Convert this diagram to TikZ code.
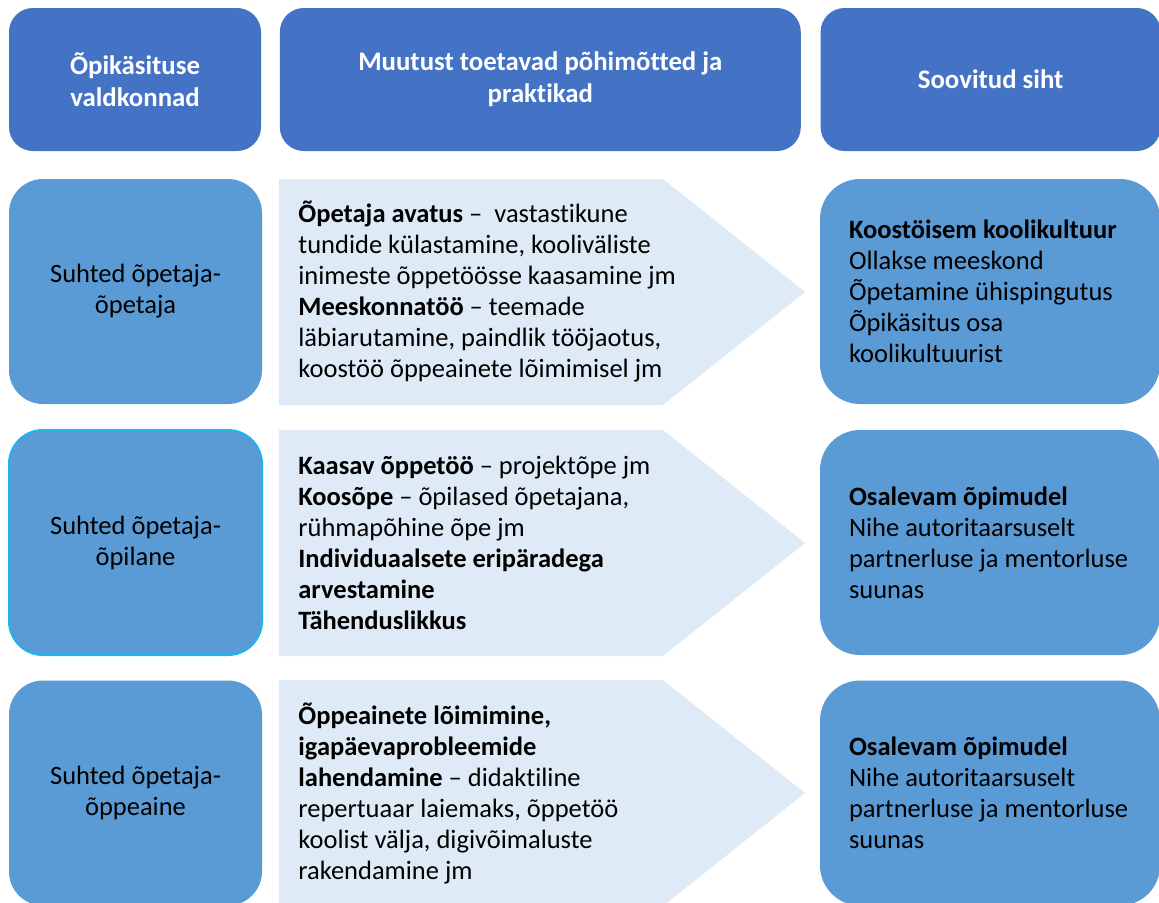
\documentclass[tikz,border=0pt]{standalone}
\usepackage{fontspec}
\setmainfont{Carlito}[Ligatures=NoCommon]
\usetikzlibrary{positioning}

\definecolor{headblue}{HTML}{4472C4}
\definecolor{rowblue}{HTML}{5B9BD5}
\definecolor{arrowfill}{HTML}{DEEBF7}
\definecolor{edgecyan}{HTML}{1FB4EC}
\newcommand{\bodyfont}{\fontsize{13.25}{15.5}\selectfont}
\newcommand{\headfont}{\fontsize{13.4}{16}\selectfont\bfseries}

\begin{document}
\begin{tikzpicture}[
    x=0.5pt, y=-0.5pt,
    headbox/.style  = {rectangle, rounded corners=12pt, fill=headblue, text=white, minimum height=71.5pt, inner sep=0pt, align=center, font=\headfont},
    areabox/.style  = {rectangle, rounded corners=17pt, fill=rowblue, minimum width=126.5pt, minimum height=112.5pt, inner sep=0pt, align=center, font=\bodyfont},
    goalbox/.style  = {rectangle, rounded corners=20pt, fill=rowblue, minimum width=170pt, minimum height=112.5pt, inner sep=0pt, text width=141pt, align=flush left, font=\bodyfont},
    pracnote/.style = {anchor=west, inner sep=0pt, align=left, font=\bodyfont},
    arrowshape/.style = {fill=arrowfill}
]

    \clip (0,0) rectangle (1159,902);

    % --- Baris Judul ---
    \node (h_dom)  [headbox, minimum width=126pt] at (135,79.5) {Õpikäsituse\\ valdkonnad};
    \node (h_prac) [headbox, minimum width=260.5pt, right=9pt of h_dom] {Muutust toetavad põhimõtted ja\\ praktikad};
    \node (h_goal) [headbox, minimum width=170pt, right=9.5pt of h_prac] {Soovitud siht};

    % --- Panah Latar ---
    \foreach \top in {179,430,680}
        \fill [arrowshape] (279,\top) -- (663,\top) -- (805,\top+113) -- (663,\top+226) -- (279,\top+226) -- cycle;

    % --- Baris 1 ---
    \node (dom1)  [areabox] at (135.5,291.5) {Suhted õpetaja-\\ õpetaja};
    \node (prac1) [pracnote] at (298,291.5) {\textbf{Õpetaja avatus} –\ \ vastastikune\\ tundide külastamine, kooliväliste\\ inimeste õppetöösse kaasamine jm\\ \textbf{Meeskonnatöö} – teemade\\ läbiarutamine, paindlik tööjaotus,\\ koostöö õppeainete lõimimisel jm};
    \node (goal1) [goalbox] at (990,291.5) {\textbf{Koostöisem koolikultuur}\\ Ollakse meeskond\\ Õpetamine ühispingutus\\ Õpikäsitus osa\\ koolikultuurist};

    % --- Baris 2 ---
    \node (dom2)  [areabox, draw=edgecyan, line width=1pt] at (135.5,542.5) {Suhted õpetaja-\\ õpilane};
    \node (prac2) [pracnote] at (298,543) {\textbf{Kaasav õppetöö} – projektõpe jm\\ \textbf{Koosõpe} – õpilased õpetajana,\\ rühmapõhine õpe jm\\ \textbf{Individuaalsete eripäradega}\\ \textbf{arvestamine}\\ \textbf{Tähenduslikkus}};
    \node (goal2) [goalbox] at (990,542.5) {\textbf{Osalevam õpimudel}\\ Nihe autoritaarsuselt\\ partnerluse ja mentorluse\\ suunas};

    % --- Baris 3 ---
    \node (dom3)  [areabox] at (135.5,793) {Suhted õpetaja-\\ õppeaine};
    \node (prac3) [pracnote] at (298,793) {\textbf{Õppeainete lõimimine,}\\ \textbf{igapäevaprobleemide}\\ \textbf{lahendamine} – didaktiline\\ repertuaar laiemaks, õppetöö\\ koolist välja, digivõimaluste\\ rakendamine jm};
    \node (goal3) [goalbox] at (990,793) {\textbf{Osalevam õpimudel}\\ Nihe autoritaarsuselt\\ partnerluse ja mentorluse\\ suunas};

\end{tikzpicture}
\end{document}
